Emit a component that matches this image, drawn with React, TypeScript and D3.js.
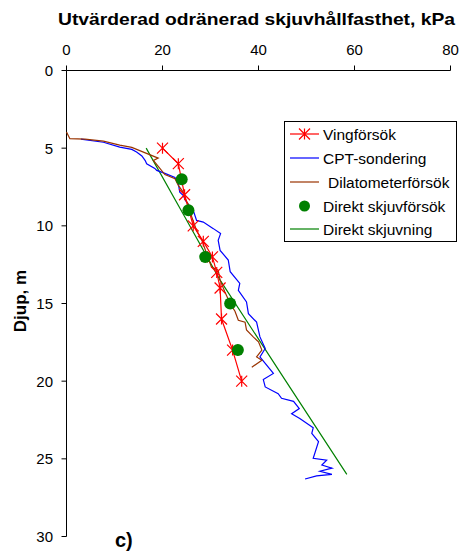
import React from "react";
import * as d3 from "d3";

// Tick labels
const xTicks = [0, 20, 40, 60, 80];
const yTicks = [0, 5, 10, 15, 20, 25, 30];

// Series: [kPa, depth m]
const vingforsok: [number, number][] = [
  [20.0, 5], [23.3, 6], [24.6, 8], [26.4, 10], [28.5, 11], [30.4, 12],
  [31.3, 13], [32.0, 14], [32.3, 16], [34.6, 18], [36.5, 20],
];

const cptSondering: [number, number][] = [
  [3.0, 4.42], [7.7, 4.62], [11.1, 4.93], [13.6, 5.08], [14.6, 5.25], [15.7, 5.5],
  [16.4, 5.8], [16.7, 6.0], [18.4, 6.3], [18.8, 6.43], [20.5, 6.62], [22.6, 6.88],
  [23.3, 7.3], [23.6, 7.83], [24.3, 8.04], [25.0, 8.47], [26.4, 9.0], [27.1, 9.65],
  [28.5, 9.76], [30.6, 10.18], [32.1, 10.5], [31.6, 10.93], [32.0, 11.58], [33.7, 12.2],
  [34.1, 12.95], [36.1, 13.7], [35.8, 14.15], [37.5, 14.9], [37.9, 15.65], [39.6, 16.2],
  [40.3, 17.15], [41.4, 17.9], [40.3, 18.44], [41.4, 18.86], [43.1, 19.5], [41.0, 19.9],
  [41.4, 20.37], [44.1, 20.8], [44.8, 21.1], [47.3, 21.3], [48.5, 21.76], [46.9, 22.1],
  [48.6, 22.4], [51.4, 23.0], [51.1, 23.36], [52.5, 23.9], [51.4, 24.97], [54.2, 25.08],
  [53.2, 25.4], [55.3, 25.6], [52.8, 25.8], [55.3, 26.0], [52.1, 26.1], [49.7, 26.3],
];

const dilatometer: [number, number][] = [
  [0, 3.96], [0.7, 4.39], [3.85, 4.42], [7.7, 4.55], [11.1, 4.8], [13.6, 4.95],
  [19.1, 5.64], [18.1, 5.79], [20.5, 6.7], [22.6, 6.96], [23.3, 7.4], [24.3, 7.83],
  [24.7, 8.25], [25.7, 8.79], [26.1, 9.43], [27.1, 10.3], [28.2, 10.93], [29.2, 11.79],
  [30.2, 12.65], [31.6, 12.85], [32.0, 13.5], [33.0, 14.26], [34.1, 15.0], [35.1, 15.5],
  [35.8, 16.08], [37.2, 16.2], [37.5, 16.7], [38.9, 17.15], [40.0, 17.47], [40.7, 18.0],
  [39.6, 18.44], [40.7, 18.65], [38.6, 19.1],
];

const direktForsok: [number, number][] = [
  [24.0, 7], [25.4, 9], [28.9, 12], [34.1, 15], [35.7, 18],
];

const direktSkjuvning: [number, number][] = [
  [16.6, 5.0], [24.6, 9.4], [32.0, 13.5], [45.5, 19.9], [58.4, 26.0],
];

const legendLabels = [
  "Vingförsök",
  "CPT-sondering",
  "Dilatometerförsök",
  "Direkt skjuvförsök",
  "Direkt skjuvning",
];

const RED = "#ff0000";
const BLUE = "#0000ff";
const BROWN = "#993300";
const GREEN = "#008000";
const FONT = "'Liberation Sans', Arial, sans-serif";

function asterisk(cx: number, cy: number, s: number) {
  return `M${cx - s},${cy - s}L${cx + s},${cy + s}M${cx + s},${cy - s}L${cx - s},${cy + s}M${cx},${cy - s}L${cx},${cy + s}`;
}

export default function App() {
  const x = d3.scaleLinear().domain([0, 80]).range([66.5, 450.5]);
  const y = d3.scaleLinear().domain([0, 30]).range([70.5, 536.5]);
  const line = d3
    .line<[number, number]>()
    .x((d) => x(d[0]))
    .y((d) => y(d[1]));

  const lg = { x0: 284.5, y0: 121.5, w: 172, h: 120 };
  const rowY = [134, 158, 182, 206, 229];

  return (
    <svg
      width={462}
      height={555}
      style={{ position: "absolute", left: 0, top: 0, background: "#fff" }}
      fontFamily={FONT}
    >
      <rect width={462} height={555} fill="#fff" />
      {/* Title */}
      <text
        x={58}
        y={25}
        fontSize={17}
        fontWeight="bold"
        textLength={397}
        lengthAdjust="spacingAndGlyphs"
      >
        Utvärderad odränerad skjuvhållfasthet, kPa
      </text>

      {/* Top axis */}
      <line x1={x(0)} x2={x(80)} y1={y(0)} y2={y(0)} stroke="#000" strokeWidth={1} />
      {xTicks.map((t) => (
        <g key={"xt" + t}>
          <line x1={x(t)} x2={x(t)} y1={y(0)} y2={y(0) - 5} stroke="#000" />
          <text x={x(t)} y={54.5} fontSize={15} textAnchor="middle">
            {t}
          </text>
        </g>
      ))}

      {/* Left axis */}
      <line x1={x(0)} x2={x(0)} y1={y(0)} y2={y(30)} stroke="#000" strokeWidth={1} />
      {yTicks.map((t) => (
        <g key={"yt" + t}>
          <line x1={x(0) - 5} x2={x(0)} y1={y(t)} y2={y(t)} stroke="#000" />
          <text x={53} y={y(t) + 5.5} fontSize={15} textAnchor="end">
            {t}
          </text>
        </g>
      ))}

      <text
        transform="translate(26,301) rotate(-90)"
        fontSize={17}
        fontWeight="bold"
        textAnchor="middle"
      >
        Djup, m
      </text>

      {/* Series */}
      <path d={line(direktSkjuvning) || ""} fill="none" stroke={GREEN} strokeWidth={1.2} />
      <path d={line(cptSondering) || ""} fill="none" stroke={BLUE} strokeWidth={1.2} />
      <path d={line(dilatometer) || ""} fill="none" stroke={BROWN} strokeWidth={1.2} />
      <path d={line(vingforsok) || ""} fill="none" stroke={RED} strokeWidth={1.2} />
      {vingforsok.map((d, i) => (
        <path key={"v" + i} d={asterisk(x(d[0]), y(d[1]), 5.5)} stroke={RED} strokeWidth={1.2} fill="none" />
      ))}
      {direktForsok.map((d, i) => (
        <circle key={"g" + i} cx={x(d[0])} cy={y(d[1])} r={6} fill={GREEN} />
      ))}

      {/* Legend */}
      <rect x={lg.x0} y={lg.y0} width={lg.w} height={lg.h} fill="#fff" stroke="#000" strokeWidth={1} />
      <line x1={290} x2={319} y1={rowY[0]} y2={rowY[0]} stroke={RED} strokeWidth={1.2} />
      <path d={asterisk(304.5, rowY[0], 5.5)} stroke={RED} strokeWidth={1.2} fill="none" />
      <line x1={290} x2={319} y1={rowY[1]} y2={rowY[1]} stroke={BLUE} strokeWidth={1.2} />
      <line x1={290} x2={319} y1={rowY[2]} y2={rowY[2]} stroke={BROWN} strokeWidth={1.2} />
      <circle cx={304.5} cy={rowY[3]} r={5.5} fill={GREEN} />
      <line x1={290} x2={319} y1={rowY[4]} y2={rowY[4]} stroke={GREEN} strokeWidth={1.2} />
      {legendLabels.map((l, i) => (
        <text key={l} x={i === 2 ? 328 : 323} y={rowY[i] + 5.5} fontSize={15.5}>
          {l}
        </text>
      ))}

      <text x={115} y={547} fontSize={20} fontWeight="bold">
        c)
      </text>
    </svg>
  );
}
